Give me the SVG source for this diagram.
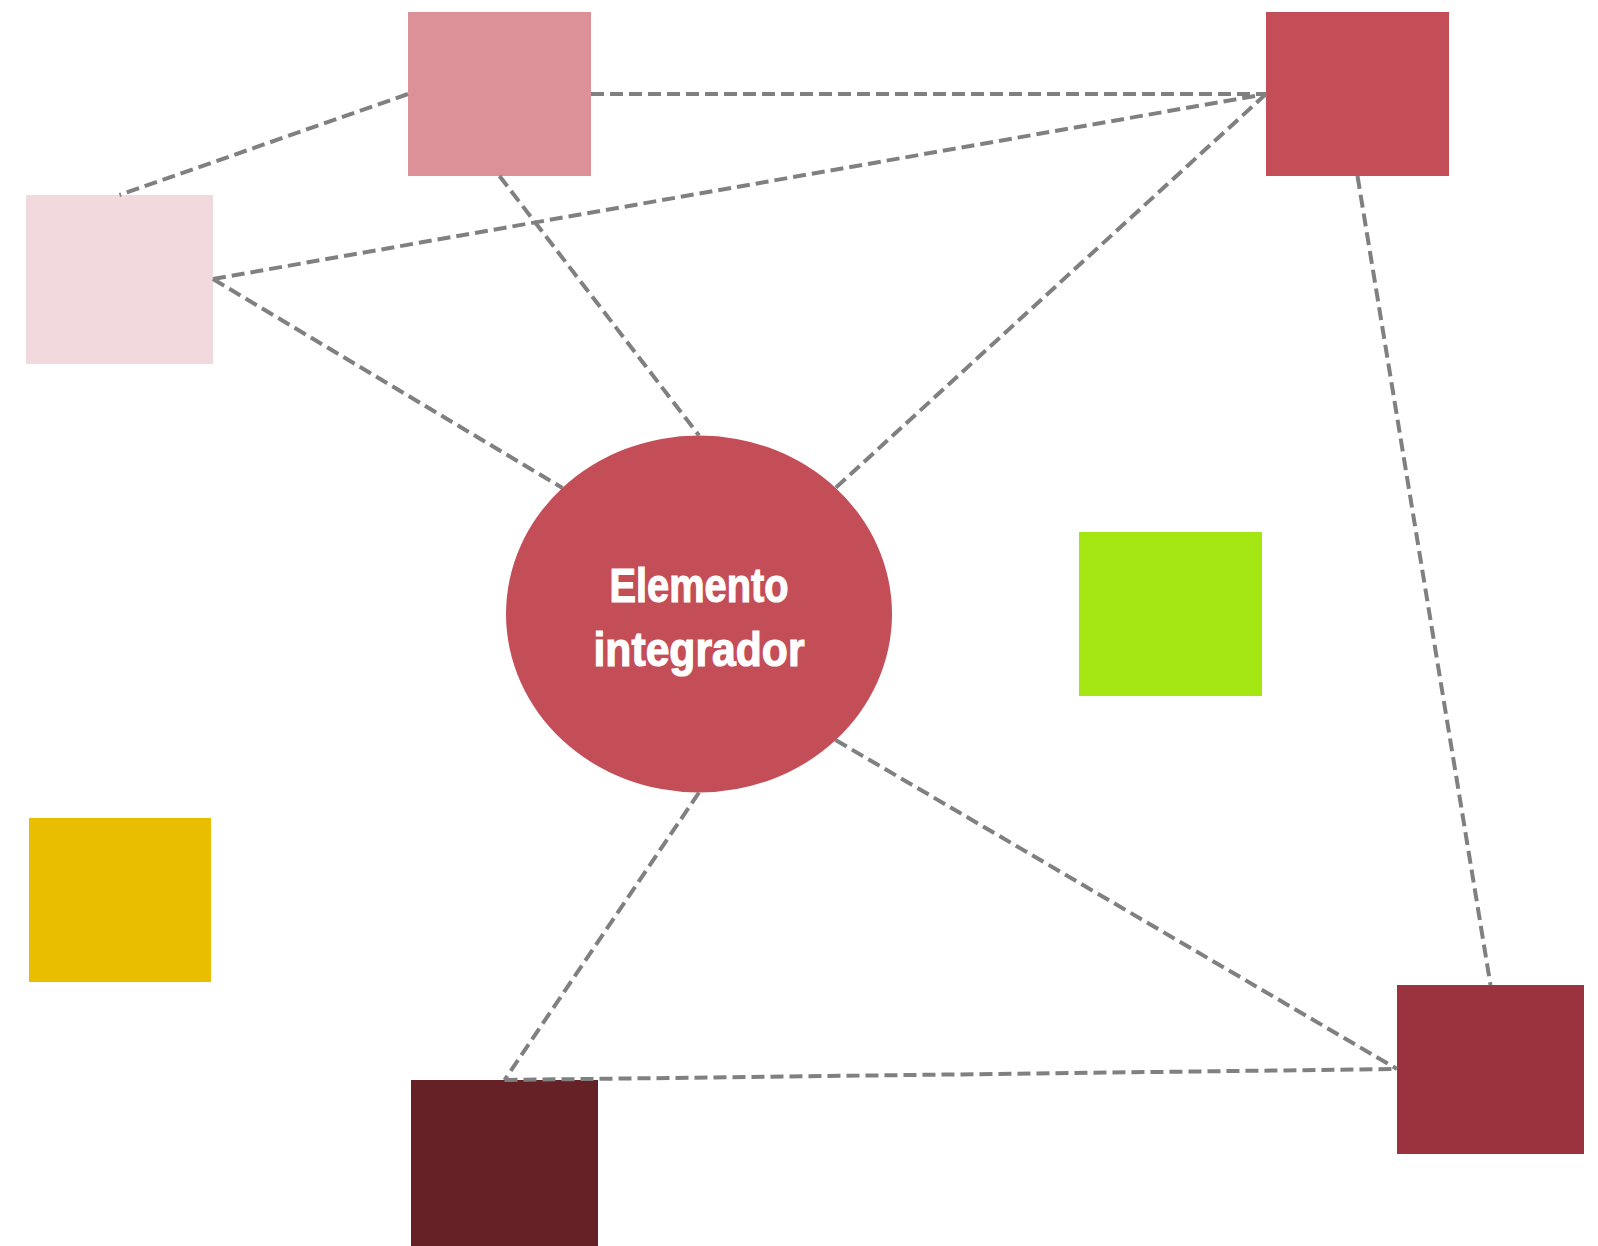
<svg xmlns="http://www.w3.org/2000/svg" width="1598" height="1246" viewBox="0 0 1598 1246">
<style>
.conn line{stroke:#808080;stroke-width:4;stroke-dasharray:13 6;fill:none}
.lbl{font-family:"Liberation Sans",Arial,sans-serif;font-weight:bold;font-size:48px;fill:#ffffff;stroke:#ffffff;stroke-width:1.2;text-anchor:middle}
</style>
<rect width="1598" height="1246" fill="#ffffff"/>
<g id="node-pink"><rect x="408" y="12" width="183" height="164" fill="#DC9199"/></g>
<g id="node-red-top"><rect x="1266" y="12" width="183" height="164" fill="#C44E58"/></g>
<g id="node-lightpink"><rect x="26" y="195" width="187" height="169" fill="#F2D9DD"/></g>
<g id="node-green"><rect x="1079" y="532" width="183" height="164" fill="#A3E611"/></g>
<g id="node-yellow"><rect x="29" y="818" width="182" height="164" fill="#EABE00"/></g>
<g id="node-maroon"><rect x="411" y="1080" width="187" height="166" fill="#662127"/></g>
<g id="node-redbrown"><rect x="1397" y="985" width="187" height="169" fill="#9A333D"/></g>
<g id="center"><ellipse cx="699" cy="614" rx="193" ry="178.5" fill="#C44E58"/>
<text class="lbl" x="699" y="602" textLength="179" lengthAdjust="spacingAndGlyphs">Elemento</text>
<text class="lbl" x="699" y="666" textLength="211" lengthAdjust="spacingAndGlyphs">integrador</text></g>
<g class="conn" id="connectors">
<line x1="408" y1="94" x2="119.5" y2="195"/>
<line x1="591" y1="94" x2="1266" y2="94"/>
<line x1="213" y1="279" x2="1266" y2="94"/>
<line x1="213" y1="279" x2="562.5" y2="488"/>
<line x1="499.5" y1="176" x2="699" y2="435.5"/>
<line x1="1266" y1="94" x2="835.5" y2="488"/>
<line x1="1357.5" y1="176" x2="1490.5" y2="985"/>
<line x1="835.5" y1="740" x2="1397" y2="1069"/>
<line x1="699" y1="792.5" x2="504.5" y2="1080"/>
<line x1="504.5" y1="1080" x2="1397" y2="1069"/>
</g>
</svg>
